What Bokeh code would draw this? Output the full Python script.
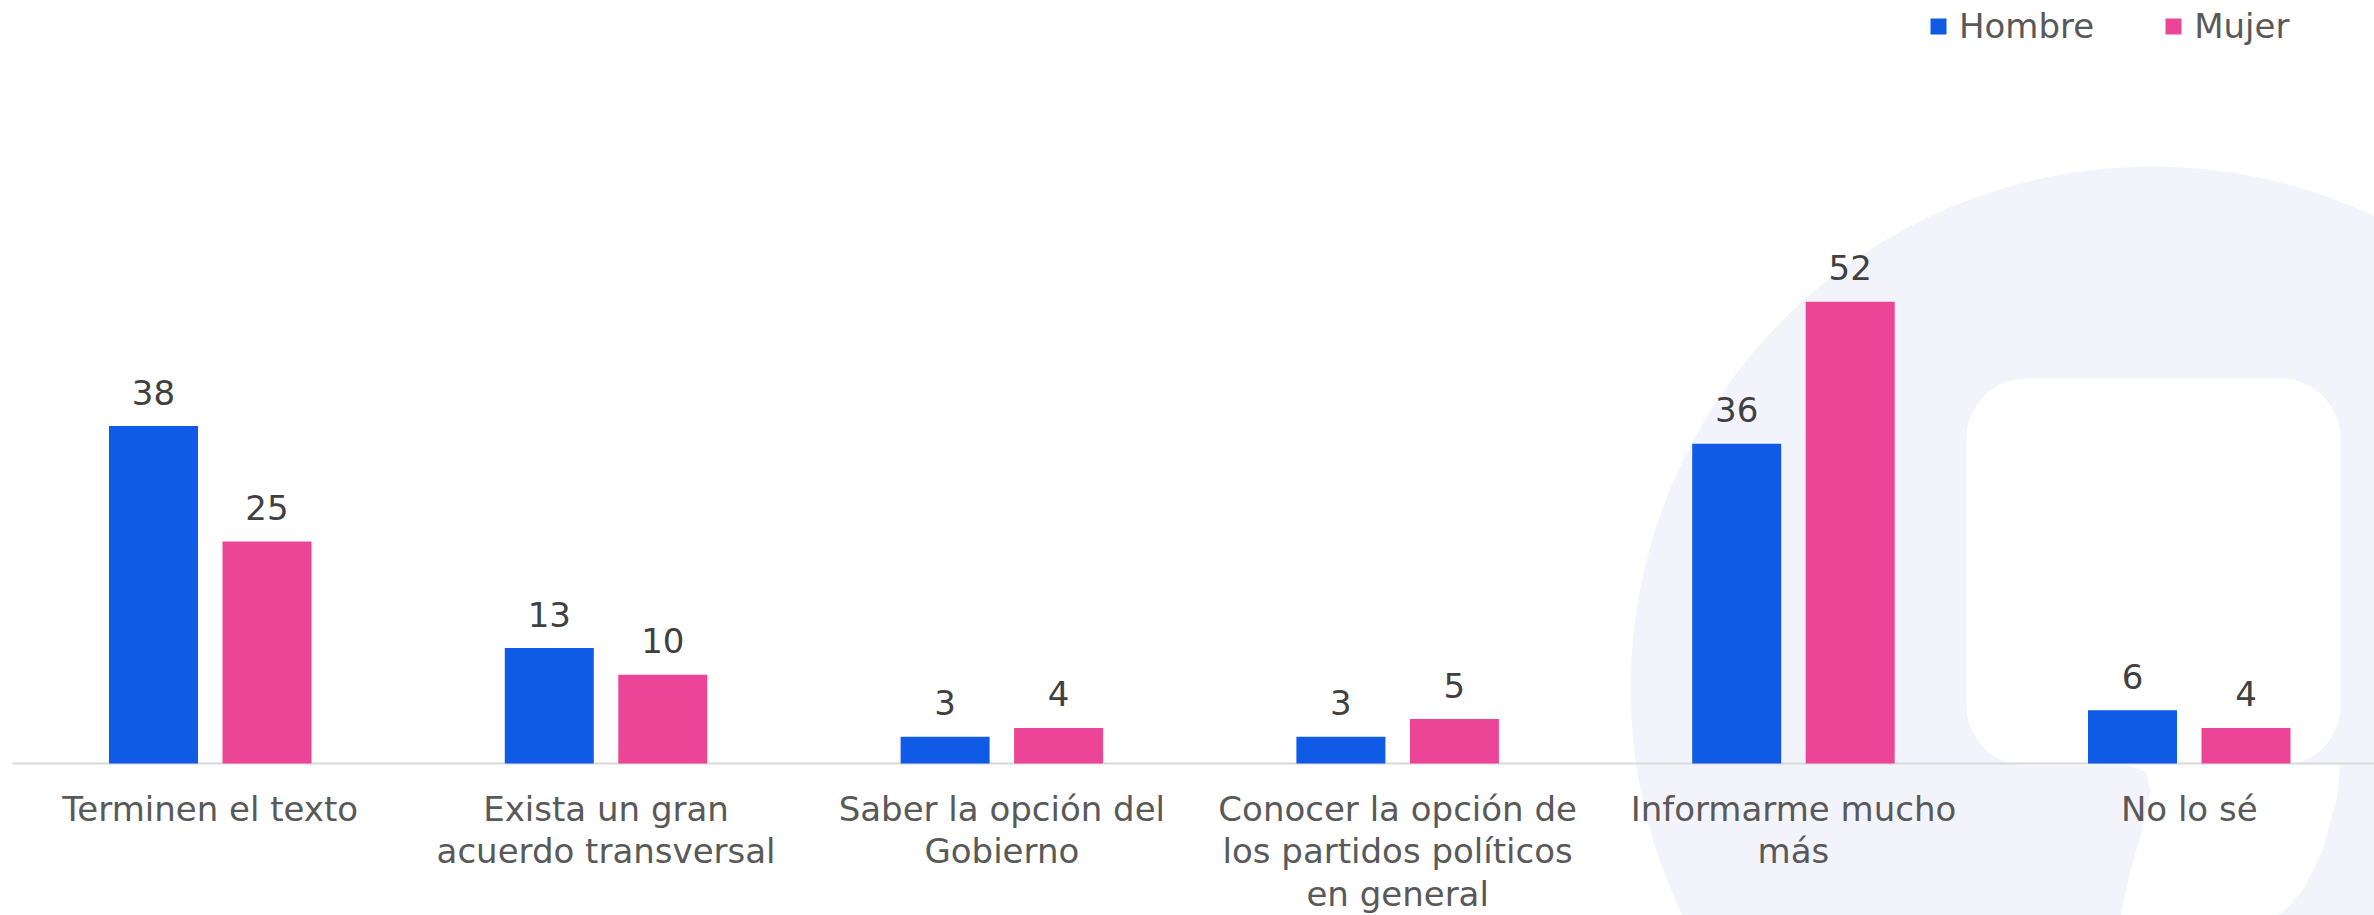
from bokeh.plotting import figure
from bokeh.models import ColumnDataSource, Range1d, Legend, LegendItem
from bokeh.transform import dodge
from bokeh.core.properties import value
from bokeh.embed import file_html
from bokeh.resources import INLINE

# ---- data ----
categories = [
    "Terminen el texto",
    "Exista un gran\nacuerdo transversal",
    "Saber la opción del\nGobierno",
    "Conocer la opción de\nlos partidos políticos\nen general",
    "Informarme mucho\nmás",
    "No lo sé",
]
hombre = [38, 13, 3, 3, 36, 6]
mujer = [25, 10, 4, 5, 52, 4]
series_names = ["Hombre", "Mujer"]

BLUE = "#105BE5"
PINK = "#EC4496"
WATER = "#F3F4FB"
FONT = "DejaVu Sans"

# ---- geometry (page pixels, figure at page origin) ----
W, H = 2374, 915
SX = 395.8          # px per category
SY = 8.88           # px per unit
X0 = -209.75 / SX
X1 = X0 + W / SX
Y1 = 763 / SY
Y0 = Y1 - H / SY


def dx(px):
    return X0 + px / SX


def dy(py):
    return Y1 - py / SY


p = figure(width=W, height=H, output_backend="svg", toolbar_location=None,
           x_range=Range1d(X0, X1), y_range=Range1d(Y0, Y1),
           x_axis_location=None, y_axis_location=None,
           min_border=0, outline_line_color=None, tools="")
p.xgrid.visible = False
p.ygrid.visible = False
p.background_fill_color = "white"
p.border_fill_color = "white"

# ---- watermark decoration ----
p.circle(x=[dx(2152)], y=[dy(688)], radius=522, radius_units="screen",
         fill_color=WATER, line_color=None)
p.quad(left=[dx(1966)], right=[dx(2340)], top=[dy(378)], bottom=[dy(765)],
       border_radius=60, fill_color="white", line_color=None)
tail_x = [2128, 2340, 2336, 2322, 2302, 2282, 2240, 2117, 2130, 2143, 2150, 2146]
tail_y = [764, 764, 800, 850, 890, 912, 930, 930, 870, 825, 790, 772]
p.patch(x=[dx(v) for v in tail_x], y=[dy(v) for v in tail_y],
        fill_color="white", line_color=None)

# ---- baseline ----
p.segment(x0=[dx(12)], y0=[0], x1=[X1], y1=[0], line_color="#D9D9D9", line_width=2)

# ---- bars ----
src = ColumnDataSource(dict(
    x=list(range(len(categories))),
    cat=categories,
    hombre=hombre,
    mujer=mujer,
    hombre_lbl=[str(v) for v in hombre],
    mujer_lbl=[str(v) for v in mujer],
))
OFF = 56.75 / SX
BW = 89 / SX

r1 = p.vbar(x=dodge("x", -OFF, range=p.x_range), top="hombre", bottom=0, width=BW,
            source=src, fill_color=BLUE, line_color=None)
r2 = p.vbar(x=dodge("x", OFF, range=p.x_range), top="mujer", bottom=0, width=BW,
            source=src, fill_color=PINK, line_color=None)

for col, off in (("hombre", -OFF), ("mujer", OFF)):
    p.text(x=dodge("x", off, range=p.x_range), y=col, text=col + "_lbl", source=src,
           text_font=value(FONT), text_font_size="34px", text_color="#404040",
           text_align="center", text_baseline="alphabetic", y_offset=-34)

# ---- category labels ----
p.text(x="x", y=dy(788), text="cat", source=src,
       text_font=value(FONT), text_font_size="34px", text_color="#595959",
       text_align="center", text_baseline="top", text_line_height=1.07)

# ---- legend ----
legend = Legend(items=[LegendItem(label=series_names[0], renderers=[r1]),
                       LegendItem(label=series_names[1], renderers=[r2])],
                orientation="horizontal", location=(1928, 869),
                border_line_color=None, background_fill_alpha=0,
                padding=0, margin=0, spacing=69, label_standoff=11,
                glyph_width=20, glyph_height=20,
                label_text_font=FONT, label_text_font_size="34px",
                label_text_color="#595959")
p.add_layout(legend)

open("out.html", "w").write(file_html(p, INLINE))
